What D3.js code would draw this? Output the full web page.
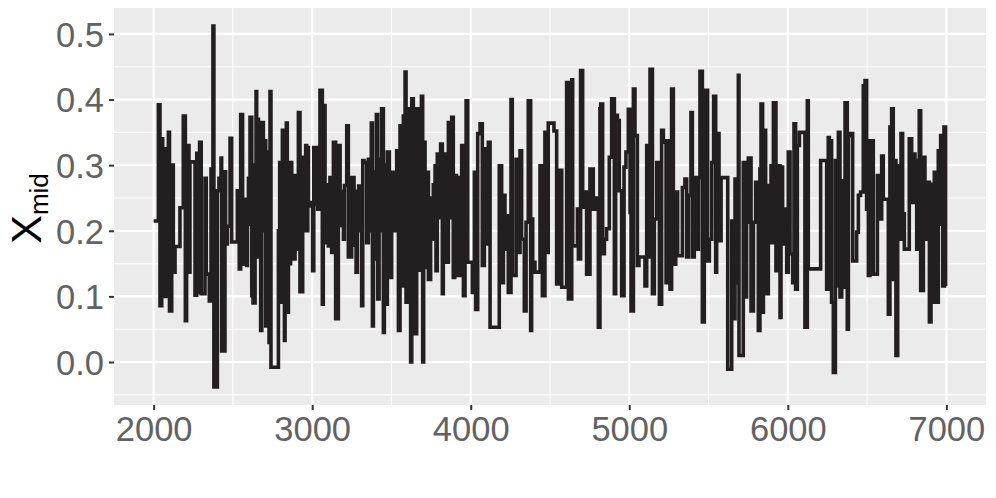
<!DOCTYPE html>
<html><head><meta charset="utf-8">
<script src="https://cdn.jsdelivr.net/npm/d3@7"></script>
<style>body{margin:0;background:#fff}svg{display:block}text{font-family:"Liberation Sans",Arial,sans-serif}</style>
</head><body><svg id="c" width="996" height="498"></svg>
<script>
const iterations = [2000,2030,2040,2051,2057,2065,2074,2082,2093,2100,2114,2124,2135,2166,2187,2200,2208,2223,2229,2261,2272,2280,2290,2300,2324,2332,2351,2362,2374,2380,2402,2412,2425,2429,2450,2454,2465,2482,2492,2528,2540,2549,2561,2570,
2587,2592,2598,2608,2619,2627,2640,2646,2650,2661,2671,2675,2682,2692,2703,2707,2713,2720,2728,2734,2740,2787,2795,2804,2812,2825,2829,2837,2843,2850,2856,2864,2871,2881,2892,2902,2913,2923,2940,2951,2959,2965,2972,2976,2991,3003,3010,3018,3028,3035,3049,3064,3070,3081,3091,3102,3112,3123,3134,3148,3165,3176,3186,3197,3203,3218,3228,
3249,3264,3277,3285,3293,3302,3312,3319,3327,3344,3354,3365,3373,3380,3386,3396,3405,3413,3422,3428,3438,3449,3455,3459,3468,3474,3487,3495,3501,3512,3522,3533,3544,3554,3565,3575,3586,3592,3600,3613,3621,3628,3638,3649,3659,3670,3680,3689,3697,3703,3712,3722,3733,3747,3756,3764,3775,3781,3789,3802,3810,3821,3827,3838,3848,3859,3869,3880,3890,3899,
3910,3915,3922,3933,3943,3954,3964,3971,3981,4010,4023,4031,4044,4059,4073,4086,4096,4103,4111,4122,4180,4195,4206,4216,4227,4237,4254,4262,4286,4300,4311,4321,4338,4349,4363,4378,4384,4391,4405,4437,4452,4468,4479,4489,4525,4542,4553,
4574,4605,4616,4637,4643,4673,4679,4693,4706,4721,4731,4752,4773,4794,4805,4815,4820,4832,4843,4857,4874,4889,4906,4914,4925,4937,4952,4967,4979,4994,5005,5011,5026,5036,5051,5061,5099,5110,5120,5131,5146,5158,5173,5190,5204,5215,5232,
5236,5246,5257,5267,5278,5293,5305,5335,5351,5362,5373,5389,5398,5410,5421,5436,5446,5461,5473,5482,5494,5505,5520,5532,5545,5551,5566,5579,5621,5646,5656,5667,5673,5688,5692,5719,5730,5740,5751,5768,5783,5797,5814,5824,5831,5841,5846,5860,5877,5894,
5898,5909,5925,5934,5951,5957,5967,5982,5993,6003,6014,6031,6039,6049,6060,6073,6108,6123,6129,6207,6245,6255,6262,6276,6287,6300,6308,6319,6329,6340,6350,6361,6375,6382,6392,6409,6434,6445,6459,6476,6487,6497,6508,6518,6539,
6565,6581,6592,6602,6634,6644,6655,6665,6672,6682,6693,6703,6714,6724,6735,6766,6781,6792,6802,6813,6829,6838,6855,6865,6880,6893,6903,6913,6924,6935,6949,6955,6964,6977,6985,6995,7000];
const xmidValues = [0.215,0.392,0.086,0.340,0.100,0.325,0.280,0.100,0.350,0.078,0.300,0.137,0.176,0.235,0.375,0.063,0.330,0.137,0.305,0.102,0.318,0.106,0.335,0.104,0.280,0.134,0.093,0.294,0.512,-0.038,0.261,0.280,0.311,0.017,0.290,0.180,0.207,0.341,0.183,0.261,0.142,0.377,0.149,
0.248,0.147,0.210,0.280,0.373,0.101,0.090,0.300,0.412,0.370,0.160,0.330,0.048,0.365,0.200,0.337,0.055,0.320,0.150,0.030,0.412,-0.008,0.200,0.304,0.091,0.353,0.033,0.250,0.364,0.076,0.304,0.150,0.304,0.284,0.157,0.284,0.172,0.380,0.107,0.312,0.200,0.330,0.200,0.327,0.243,0.238,0.139,0.327,0.240,0.327,0.233,0.414,0.088,0.391,0.182,0.270,0.177,0.281,0.167,0.335,0.066,0.330,0.208,0.260,0.187,0.269,0.360,
0.160,0.281,0.178,0.137,0.260,0.268,0.200,0.086,0.307,0.304,0.182,0.309,0.200,0.364,0.055,0.157,0.290,0.377,0.096,0.309,0.200,0.386,0.045,0.238,0.300,0.088,0.320,0.200,0.129,0.289,0.200,0.208,0.322,0.048,0.360,0.116,0.375,0.442,0.091,0.386,0.150,0.000,0.401,0.200,0.043,0.386,0.248,0.140,0.405,0.000,0.335,0.144,0.289,0.126,0.250,0.187,0.270,0.299,0.139,0.317,0.220,0.332,0.104,0.269,0.317,0.152,0.365,0.220,0.373,0.129,
0.284,0.132,0.281,0.132,0.250,0.330,0.101,0.300,0.398,0.152,0.106,0.289,0.080,0.348,0.363,0.147,0.325,0.180,0.248,0.335,0.053,0.299,0.121,0.254,0.172,0.223,0.106,0.400,0.132,0.309,0.167,0.322,0.187,0.078,0.213,0.398,0.048,0.218,0.152,0.137,0.299,0.101,0.350,0.167,0.364,0.352,0.119,
0.292,0.114,0.426,0.096,0.430,0.177,0.233,0.157,0.444,0.236,0.259,0.134,0.294,0.233,0.250,0.053,0.386,0.393,0.165,0.187,0.203,0.312,0.401,0.104,0.376,0.368,0.261,0.101,0.297,0.320,0.385,0.228,0.078,0.416,0.345,0.147,0.160,0.116,0.330,0.160,0.446,0.104,0.218,0.304,0.088,0.353,0.335,
0.121,0.337,0.144,0.111,0.416,0.149,0.259,0.162,0.266,0.279,0.160,0.254,0.380,0.160,0.281,0.172,0.281,0.443,0.061,0.299,0.414,0.154,0.187,0.304,0.405,0.137,0.348,0.185,0.281,-0.011,0.215,0.066,0.279,0.121,0.437,0.010,0.304,0.099,0.213,0.311,0.078,0.213,0.274,0.048,0.294,0.393,0.076,0.353,0.104,0.269,
0.299,0.182,0.395,0.139,0.299,0.068,0.297,0.180,0.233,0.137,0.320,0.165,0.121,0.363,0.111,0.330,0.350,0.053,0.398,0.142,0.307,0.111,0.342,0.337,0.091,-0.016,0.307,0.116,0.350,0.099,0.276,0.114,0.395,0.050,0.345,0.348,0.154,0.198,0.254,0.259,0.421,0.429,0.233,0.132,0.337,
0.134,0.284,0.218,0.314,0.248,0.073,0.358,0.386,0.126,0.307,0.010,0.299,0.187,0.348,0.226,0.172,0.340,0.243,0.317,0.307,0.172,0.383,0.109,0.312,0.187,0.274,0.061,0.271,0.091,0.289,0.091,0.322,0.210,0.345,0.116,0.358,0.116];
const xTicks = [2000,3000,4000,5000,6000,7000];
const yTicks = [0.0,0.1,0.2,0.3,0.4,0.5];

const svg = d3.select("#c");
const L=114, R=986, T=8, B=405;
const xe=d3.extent(iterations), ye=d3.extent(xmidValues);
const xp=(xe[1]-xe[0])*0.05, yp=(ye[1]-ye[0])*0.05;
const x=d3.scaleLinear().domain([xe[0]-xp,xe[1]+xp]).range([L,R]);
const y=d3.scaleLinear().domain([ye[0]-yp,ye[1]+yp]).range([B,T]);

svg.append("rect").attr("x",L).attr("y",T).attr("width",R-L).attr("height",B-T).attr("fill","#EBEBEB");
const g=svg.append("g");
const xMinor=[1500,2500,3500,4500,5500,6500,7500].filter(v=>x(v)>L&&x(v)<R);
const yMinor=[-0.05,0.05,0.15,0.25,0.35,0.45].filter(v=>y(v)>T&&y(v)<B);
g.selectAll(".xm").data(xMinor).join("line").attr("x1",d=>x(d)).attr("x2",d=>x(d)).attr("y1",T).attr("y2",B).attr("stroke","#fff").attr("stroke-width",1.1);
g.selectAll(".ym").data(yMinor).join("line").attr("y1",d=>y(d)).attr("y2",d=>y(d)).attr("x1",L).attr("x2",R).attr("stroke","#fff").attr("stroke-width",1.1);
g.selectAll(".xM").data(xTicks).join("line").attr("x1",d=>x(d)).attr("x2",d=>x(d)).attr("y1",T).attr("y2",B).attr("stroke","#fff").attr("stroke-width",2.2);
g.selectAll(".yM").data(yTicks).join("line").attr("y1",d=>y(d)).attr("y2",d=>y(d)).attr("x1",L).attr("x2",R).attr("stroke","#fff").attr("stroke-width",2.2);

const line=d3.line().x(d=>x(d[0])).y(d=>y(d[1])).curve(d3.curveStepAfter);
svg.append("path").datum(iterations.map((v,i)=>[v,xmidValues[i]])).attr("d",line)
  .attr("fill","none").attr("stroke","#231F20").attr("stroke-width",3.6).attr("stroke-linejoin","miter");

const xa=svg.append("g").attr("transform",`translate(0,${B})`).call(d3.axisBottom(x).tickValues(xTicks).tickFormat(d3.format("d")).tickSize(5).tickPadding(6));
const ya=svg.append("g").attr("transform",`translate(${L},0)`).call(d3.axisLeft(y).tickValues(yTicks).tickFormat(d3.format(".1f")).tickSize(5).tickPadding(5));
[xa,ya].forEach(a=>{a.select(".domain").remove();a.selectAll(".tick line").attr("stroke","#333").attr("stroke-width",2);
 a.selectAll("text").attr("fill","#626262").style("font-size","34.5px").style("font-family",'"Liberation Sans",Arial,sans-serif');});
ya.selectAll("text").attr("dy","0.36em");
xa.selectAll("text").attr("dy","0.72em");

const yl=svg.append("text").attr("transform",`translate(41,${(T+B)/2+2}) rotate(-90)`).attr("text-anchor","middle").attr("fill","#000");
yl.append("tspan").text("X").style("font-size","43px");
yl.append("tspan").text("mid").style("font-size","26px").attr("dy","7");
</script></body></html>
